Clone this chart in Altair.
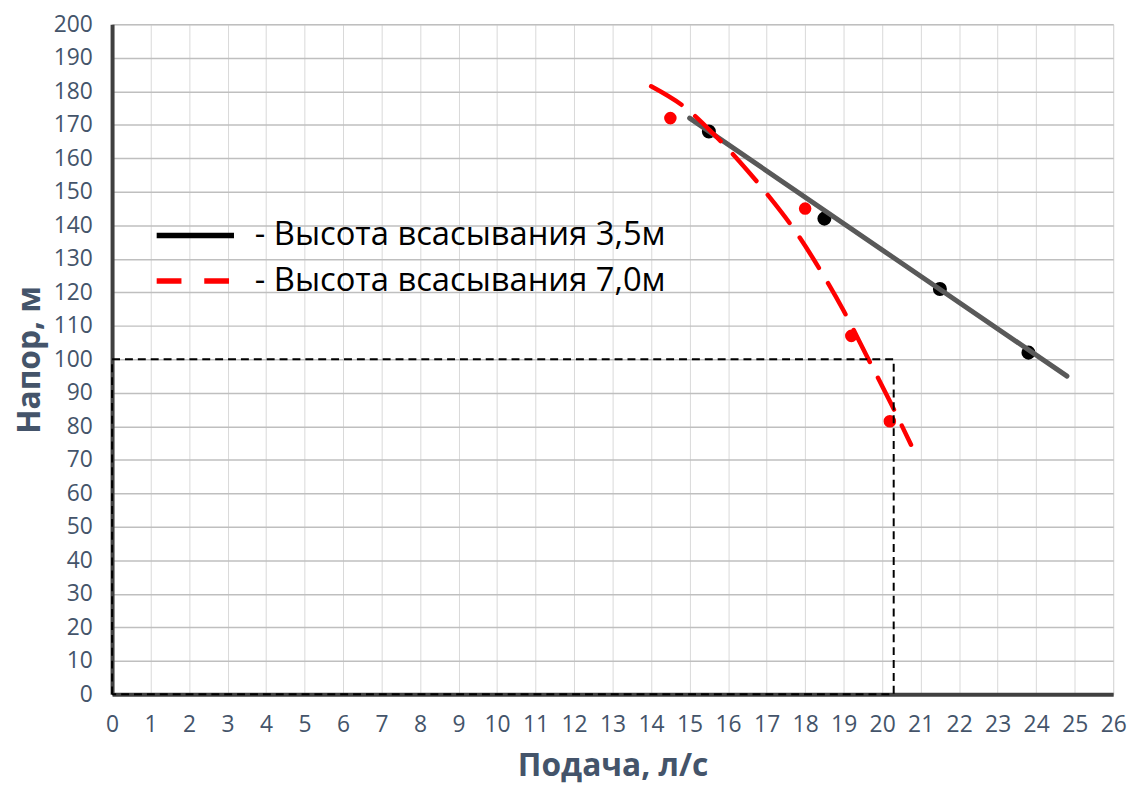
import altair as alt
import pandas as pd

# ---- data ----
x_ticks = list(range(0, 27))
y_ticks = list(range(0, 201, 10))

black_q = [15.5, 18.5, 21.5, 23.8]
black_h = [168, 142, 121, 102]
red_q = [14.5, 18.0, 19.2, 20.2]
red_h = [172, 145, 107, 81.5]

black_fit_q = [15.0, 20.3, 24.8]
black_fit_h = [172, 130.3, 95]
red_fit_q = [14.0, 14.9, 15.6, 16.3, 17.0, 17.7, 18.4, 19.0, 19.6, 20.2, 20.75]
red_fit_h = [181.5, 175, 167.5, 159, 149.5, 139, 126.5, 114.5, 101, 87.5, 74.5]

ref_q = [0, 0, 20.3, 20.3, 0]
ref_h = [0, 100, 100, 0, 0]

series_labels = ["- Высота всасывания 3,5м", "- Высота всасывания 7,0м"]

FONT = "Open Sans"
AXC = "#44546a"

xs = alt.Scale(domain=[0, 26], nice=False, zero=False)
ys = alt.Scale(domain=[0, 200], nice=False, zero=False)

black_pts = pd.DataFrame({"q": black_q, "h": black_h})
red_pts = pd.DataFrame({"q": red_q, "h": red_h})
black_fit = pd.DataFrame({"q": black_fit_q, "h": black_fit_h, "o": range(len(black_fit_q))})
red_fit = pd.DataFrame({"q": red_fit_q, "h": red_fit_h, "o": range(len(red_fit_q))})
ref = pd.DataFrame({"q": ref_q, "h": ref_h, "o": range(len(ref_q))})
leg = pd.DataFrame({"a": [series_labels[0]], "b": [series_labels[1]], "q": [0], "h": [0]})

X = alt.X("q:Q", scale=xs, title="Подача, л/с",
          axis=alt.Axis(values=x_ticks, format="d", grid=True, gridColor="#d9d9d9", gridWidth=1,
                        domainColor="#404040", domainWidth=4, ticks=False, labelOverlap=False,
                        labelFlush=False,
                        labelFontSize=23, labelColor=AXC, labelFont=FONT, labelPadding=19,
                        titleFontSize=32, titleFont=FONT, titleColor=AXC, titleFontWeight="bold",
                        titlePadding=15))
Y = alt.Y("h:Q", scale=ys, title="Напор, м",
          axis=alt.Axis(values=y_ticks, format="d", grid=True, gridColor="#bfbfbf", gridWidth=1.5,
                        domainColor="#404040", domainWidth=4, ticks=False, labelOverlap=False,
                        labelFlush=False,
                        labelFontSize=23, labelColor=AXC, labelFont=FONT, labelPadding=20,
                        titleFontSize=32, titleFont=FONT, titleColor=AXC, titleFontWeight="bold",
                        titlePadding=7))

ref_layer = alt.Chart(ref).mark_line(color="black", strokeWidth=2, strokeDash=[8, 5]).encode(
    x=X, y=Y, order="o:Q")

bp = alt.Chart(black_pts).mark_circle(color="black", size=200, opacity=1).encode(x=X, y=Y)
rp = alt.Chart(red_pts).mark_circle(color="#ff0000", size=160, opacity=1).encode(x=X, y=Y)

bl = alt.Chart(black_fit).mark_line(color="#595959", strokeWidth=5, strokeCap="round").encode(
    x=X, y=Y, order="o:Q")
rl = alt.Chart(red_fit).mark_line(color="#ff0000", strokeWidth=4.5, strokeCap="round",
                                  strokeDash=[36, 18], interpolate="monotone").encode(
    x=X, y=Y, order="o:Q")

common = dict(orient="none", legendX=42, title=None,
              symbolType="stroke", symbolSize=6084, symbolStrokeWidth=5.5,
              labelFontSize=33, labelFont=FONT, labelColor="black",
              labelLimit=0, labelOffset=18, padding=0)

legend_layer = alt.Chart(leg).mark_line(strokeWidth=5, color="#ff0000").encode(
    x=X, y=Y,
    color=alt.Color("a:N", scale=alt.Scale(domain=[series_labels[0]], range=["black"]),
                    legend=alt.Legend(legendY=171, **common)),
    strokeDash=alt.StrokeDash("b:N", scale=alt.Scale(domain=[series_labels[1]], range=[[25, 23]]),
                              legend=alt.Legend(legendY=217, symbolStrokeColor="#ff0000", **common)),
).transform_filter("datum.q > 1000")

chart = alt.layer(legend_layer, bp, rp, bl, rl, ref_layer).properties(
    width=1010, height=676, padding={"left": 5, "top": 2, "right": 5, "bottom": 0}
).configure_view(stroke=None).configure(background="white")

chart.save("out.html", embed_options={"renderer": "svg", "actions": False})
